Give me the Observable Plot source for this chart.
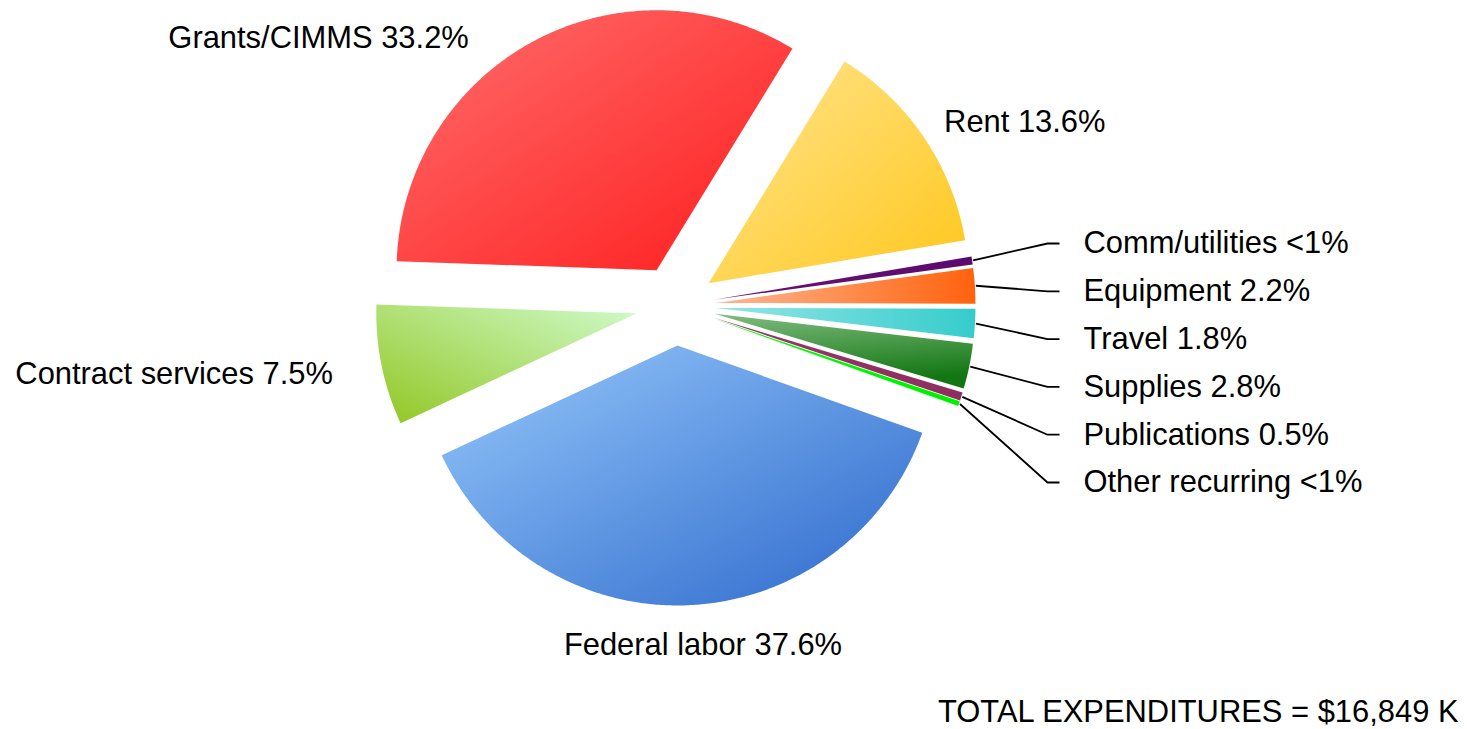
<!DOCTYPE html>
<html>
<head>
<meta charset="utf-8">
<script src="https://cdn.jsdelivr.net/npm/d3@7"></script>
<script src="https://cdn.jsdelivr.net/npm/@observablehq/plot@0.6"></script>
<style>
  html, body { margin: 0; padding: 0; background: #ffffff; }
  svg { display: block; }
</style>
</head>
<body>
<div id="chart"></div>
<script>
// ---------- data ----------
const categories = ["Grants/CIMMS", "Rent", "Comm/utilities", "Equipment", "Travel",
                    "Supplies", "Publications", "Other recurring", "Federal labor", "Contract services"];
const shares = [33.2, 13.6, 0.5, 2.2, 1.8, 2.8, 0.5, 0.3, 37.6, 7.5];
const shareLabels = ["33.2%", "13.6%", "<1%", "2.2%", "1.8%", "2.8%", "0.5%", "<1%", "37.6%", "7.5%"];
const totalLabel = "TOTAL EXPENDITURES = $16,849 K";

// ---------- styles ----------
const palette = [
  {from: "#ff6e6e", to: "#ff1c1c", x1: 0, y1: 0, x2: 1, y2: 1},   // Grants
  {from: "#ffe590", to: "#ffc71c", x1: 0, y1: 0, x2: 1, y2: 1},   // Rent
  {from: "#6a127a", to: "#5a0a6c", x1: 0, y1: 0, x2: 1, y2: 0},   // Comm
  {from: "#ffb894", to: "#ff620c", x1: 0, y1: 0, x2: 1, y2: 0},   // Equipment
  {from: "#94e6e6", to: "#36cccc", x1: 0, y1: 0, x2: 1, y2: 0},   // Travel
  {from: "#80bc80", to: "#127612", x1: 0, y1: 0, x2: 0.25, y2: 1},// Supplies
  {from: "#9a3468", to: "#8e2e60", x1: 0, y1: 0, x2: 1, y2: 0},   // Publications
  {from: "#00ff00", to: "#00f000", x1: 0, y1: 0, x2: 1, y2: 0},   // Other
  {from: "#96c8fb", to: "#2c68cb", x1: 0, y1: 0, x2: 1, y2: 1},   // Federal
  {from: "#cffbcb", to: "#92c622", x1: 1, y1: 0, x2: 0, y2: 1}    // Contract
];
const FONT = "'Liberation Sans', Arial, Helvetica, sans-serif";
const FS = 30.9;

// ---------- layout ----------
const W = 1467, H = 729;
const cxPx = 675, cyPx = 305, Rpx = 260;       // pie centre & radius (pixels)
const explode = 40 / Rpx;                       // explosion distance (radius units)
const px = v => (v - cxPx) / Rpx;               // pixel x -> radius units
const py = v => (cyPx - v) / Rpx;               // pixel y -> radius units

const arcs = d3.pie().sort(null).value(d => d)
  .startAngle(-88 * Math.PI / 180).endAngle(272 * Math.PI / 180)(shares);

const slices = arcs.map((a, i) => {
  const mid = (a.startAngle + a.endAngle) / 2;
  const ox = explode * Math.sin(mid), oy = explode * Math.cos(mid);
  const n = Math.max(2, Math.ceil((a.endAngle - a.startAngle) / (Math.PI / 360)));
  const pts = [{x: ox, y: oy}];
  for (let k = 0; k <= n; k++) {
    const t = a.startAngle + (a.endAngle - a.startAngle) * k / n;
    pts.push({x: ox + Math.sin(t), y: oy + Math.cos(t)});
  }
  pts.push({x: ox, y: oy});
  return {i, name: categories[i], mid, ox, oy, pts};
});

// big labels: anchored on the slice's mid-angle just outside the pie
const labelR = 1 + explode + 0.12;
const bigSpec = {
  0: {anchor: "end", dx: -50, dy: 24},
  1: {anchor: "start", dx: -6, dy: 2},
  8: {anchor: "middle", dx: 12, dy: 9},
  9: {anchor: "end", dx: -18, dy: 3}
};
const bigMarks = Object.entries(bigSpec).map(([k, s]) => {
  const sl = slices[+k];
  return Plot.text([sl], {
    x: d => labelR * Math.sin(d.mid), y: d => labelR * Math.cos(d.mid),
    text: d => `${d.name} ${shareLabels[d.i]}`,
    textAnchor: s.anchor, dx: s.dx, dy: s.dy,
    fontSize: FS, fontFamily: FONT, fill: "#000"
  });
});

// small labels with leader lines
const smallIdx = [2, 3, 4, 5, 6, 7];
const colX = px(1083), elbowX = px(1047), endX = px(1059);
const rowY0 = 243, rowStep = 47.8;
const smallLabels = smallIdx.map((i, r) => ({
  i, text: `${categories[i]} ${shareLabels[i]}`, y: py(rowY0 + r * rowStep)
}));
const leaders = smallLabels.flatMap(d => {
  const s = slices[d.i];
  const rr = 1 + explode + 0.004;
  return [
    {k: d.i, x: rr * Math.sin(s.mid), y: rr * Math.cos(s.mid)},
    {k: d.i, x: elbowX, y: d.y},
    {k: d.i, x: endX, y: d.y}
  ];
});

const svg = Plot.plot({
  width: W, height: H,
  marginTop: 0, marginRight: 0, marginBottom: 0, marginLeft: 0,
  x: {domain: [px(0), px(W)], axis: null},
  y: {domain: [py(H), py(0)], axis: null},
  style: {background: "#ffffff", fontFamily: FONT, overflow: "visible"},
  marks: [
    ...slices.map(s => Plot.line(s.pts, {x: "x", y: "y", fill: `url(#sliceGrad${s.i})`, stroke: "none", curve: "linear"})),
    Plot.line(leaders, {x: "x", y: "y", z: "k", stroke: "#000", strokeWidth: 1.8, strokeLinecap: "butt", strokeLinejoin: "miter"}),
    ...bigMarks,
    Plot.text(smallLabels, {x: colX, y: "y", text: "text", textAnchor: "start", fontSize: FS, fontFamily: FONT, fill: "#000"}),
    Plot.text([totalLabel], {text: d => d, frameAnchor: "bottom-right", textAnchor: "end", dx: -9, dy: -8, fontSize: FS, fontFamily: FONT, fill: "#000"})
  ]
});

// gradient definitions
const defs = d3.select(svg).insert("defs", ":first-child");
palette.forEach((p, i) => {
  const g = defs.append("linearGradient").attr("id", `sliceGrad${i}`)
    .attr("x1", p.x1).attr("y1", p.y1).attr("x2", p.x2).attr("y2", p.y2);
  g.append("stop").attr("offset", 0).attr("stop-color", p.from);
  g.append("stop").attr("offset", 1).attr("stop-color", p.to);
});

document.getElementById("chart").appendChild(svg);
</script>
</body>
</html>
